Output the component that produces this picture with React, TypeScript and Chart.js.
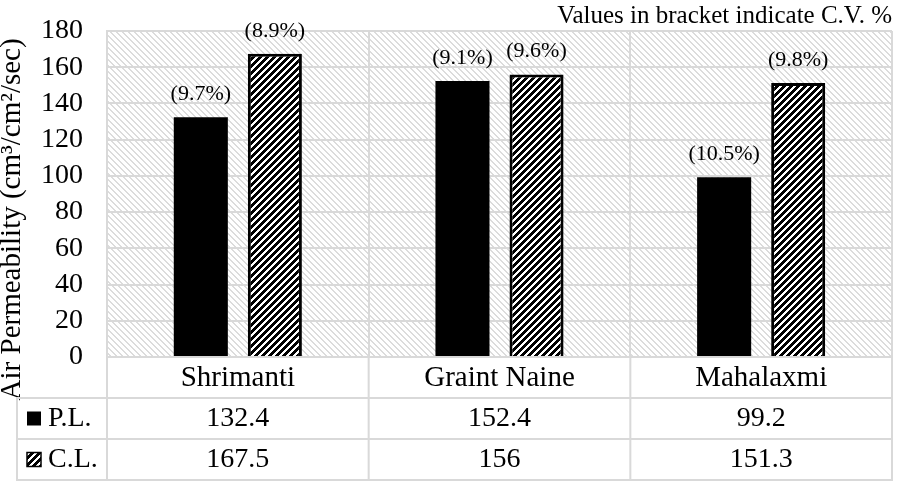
import React, { useEffect, useRef } from 'react';
import { Chart, registerables } from 'chart.js';

Chart.register(...registerables);

const categories = ['Shrimanti', 'Graint Naine', 'Mahalaxmi'];
const seriesNames = ['P.L.', 'C.L.'];
const plValues = [132.4, 152.4, 99.2];
const clValues = [167.5, 156, 151.3];
const plCV = ['(9.7%)', '(9.1%)', '(10.5%)'];
const clCV = ['(8.9%)', '(9.6%)', '(9.8%)'];
const yMin = 0;
const yMax = 180;
const yStep = 20;
const chartTitle = 'Values in bracket indicate C.V. %';
const yAxisTitle = 'Air Permeability (cm³/cm²/sec)';

const FONT = '"Liberation Serif", "Times New Roman", Times, serif';

function makeStripe(size: number, thick: number, color: string, bg: string, dir: 'up' | 'down') {
  const c = document.createElement('canvas');
  c.width = size;
  c.height = size;
  const g = c.getContext('2d')!;
  g.fillStyle = bg;
  g.fillRect(0, 0, size, size);
  g.fillStyle = color;
  for (let y = 0; y < size; y++) {
    for (let x = 0; x < size; x++) {
      const v = dir === 'up' ? (x + y) % size : (((x - y) % size) + size) % size;
      if (v < thick) g.fillRect(x, y, 1, 1);
    }
  }
  return g.createPattern(c, 'repeat')!;
}

export default function App() {
  const ref = useRef<HTMLCanvasElement | null>(null);

  useEffect(() => {
    document.body.style.margin = '0';
    const canvas = ref.current!;
    const bgPattern = makeStripe(6, 2, '#dcdcdc', '#ffffff', 'down');
    const clPattern = makeStripe(7, 4, '#000000', '#ffffff', 'up');

    const bgPlugin = {
      id: 'bgHatch',
      beforeDraw(chart: any) {
        const { ctx, chartArea: a } = chart;
        ctx.save();
        ctx.fillStyle = '#ffffff';
        ctx.fillRect(0, 0, chart.width, chart.height);
        ctx.fillStyle = bgPattern;
        ctx.fillRect(a.left, a.top, a.right - a.left, a.bottom - a.top);
        ctx.restore();
      },
    };

    const cvLists = [plCV, clCV];
    const labelPlugin = {
      id: 'cvLabels',
      afterDatasetsDraw(chart: any) {
        const ctx = chart.ctx;
        ctx.save();
        ctx.fillStyle = '#000';
        ctx.font = `22px ${FONT}`;
        ctx.textAlign = 'center';
        ctx.textBaseline = 'alphabetic';
        chart.data.datasets.forEach((_d: any, di: number) => {
          const meta = chart.getDatasetMeta(di);
          meta.data.forEach((el: any, i: number) => {
            ctx.fillText(cvLists[di][i], el.x, el.y - 17);
          });
        });
        ctx.restore();
      },
    };

    const valueLists = [plValues, clValues];
    const tablePlugin = {
      id: 'dataTable',
      afterDraw(chart: any) {
        const { ctx, chartArea: a } = chart;
        const xs = chart.scales.x;
        const n = categories.length;
        const cw = (a.right - a.left) / n;
        const top = a.bottom;
        const rowH = 41;
        const rows = [top + rowH, top + 2 * rowH, top + 3 * rowH];
        const legLeft = 17;
        ctx.save();
        ctx.strokeStyle = '#d9d9d9';
        ctx.lineWidth = 2;
        ctx.beginPath();
        rows.forEach((y) => {
          ctx.moveTo(legLeft, y);
          ctx.lineTo(a.right + 1, y);
        });
        ctx.moveTo(legLeft, rows[0] - 1);
        ctx.lineTo(legLeft, rows[2] + 1);
        for (let i = 0; i <= n; i++) {
          const x = a.left + i * cw;
          ctx.moveTo(x, top);
          ctx.lineTo(x, rows[2] + 1);
        }
        ctx.stroke();

        ctx.fillStyle = '#000';
        ctx.font = `28px ${FONT}`;
        ctx.textAlign = 'center';
        ctx.textBaseline = 'middle';
        valueLists.forEach((vals, r) => {
          const cy = rows[r] + rowH / 2;
          vals.forEach((v, i) => {
            ctx.fillText(String(v), xs.getPixelForValue(i), cy);
          });
        });

        // legend keys
        ctx.textAlign = 'left';
        seriesNames.forEach((name, r) => {
          const cy = rows[r] + rowH / 2;
          const sx = 27;
          const sz = 14;
          if (r === 0) {
            ctx.fillStyle = '#000';
            ctx.fillRect(sx, cy - sz / 2, sz, sz);
          } else {
            ctx.fillStyle = clPattern;
            ctx.fillRect(sx, cy - sz / 2, sz, sz);
            ctx.strokeStyle = '#000';
            ctx.lineWidth = 1.5;
            ctx.strokeRect(sx, cy - sz / 2, sz, sz);
          }
          ctx.fillStyle = '#000';
          ctx.fillText(name, 48, cy);
        });
        ctx.restore();
      },
    };

    const chart = new Chart(canvas, {
      type: 'bar',
      data: {
        labels: categories,
        datasets: [
          {
            label: seriesNames[0],
            data: plValues,
            backgroundColor: '#000000',
            borderWidth: 0,
            categoryPercentage: 0.566,
            barPercentage: 0.73,
          },
          {
            label: seriesNames[1],
            data: clValues,
            backgroundColor: clPattern as any,
            borderColor: '#000000',
            borderWidth: 3,
            categoryPercentage: 0.566,
            barPercentage: 0.73,
          },
        ],
      },
      options: {
        responsive: false,
        animation: false,
        devicePixelRatio: 1,
        layout: { padding: { left: 0, right: 6, top: 0, bottom: 0 } },
        plugins: {
          legend: { display: false },
          tooltip: { enabled: false },
          title: {
            display: true,
            text: chartTitle,
            align: 'end',
            color: '#000',
            font: { family: FONT, size: 25, weight: 'normal', lineHeight: 1.2 },
            padding: { top: 1, bottom: 0 },
          },
        },
        scales: {
          x: {
            grid: { offset: true, color: '#d9d9d9', lineWidth: 2, drawTicks: false },
            border: { color: '#d9d9d9', width: 2 },
            ticks: {
              color: '#000',
              font: { family: FONT, size: 29 },
              padding: 4,
              maxRotation: 0,
              autoSkip: false,
            },
            afterFit: (s: any) => {
              s.height = 125;
              s.paddingLeft = 0;
              s.paddingRight = 0;
            },
          },
          y: {
            min: yMin,
            max: yMax,
            ticks: {
              stepSize: yStep,
              color: '#000',
              font: { family: FONT, size: 28 },
              padding: 24,
              autoSkip: false,
            },
            grid: { color: '#d9d9d9', lineWidth: 2, drawTicks: false },
            border: { color: '#d9d9d9', width: 2 },
            title: {
              display: true,
              text: yAxisTitle + '\u00A0'.repeat(7),
              color: '#000',
              font: { family: FONT, size: 29, lineHeight: 0.85 },
              padding: 0,
            },
            afterFit: (s: any) => {
              s.width = 107;
              s.paddingTop = 0;
              s.paddingBottom = 0;
            },
          },
        },
      },
      plugins: [bgPlugin, labelPlugin, tablePlugin],
    } as any);

    return () => chart.destroy();
  }, []);

  return (
    <canvas
      ref={ref}
      width={898}
      height={482}
      style={{ display: 'block', width: 898, height: 482 }}
    />
  );
}
